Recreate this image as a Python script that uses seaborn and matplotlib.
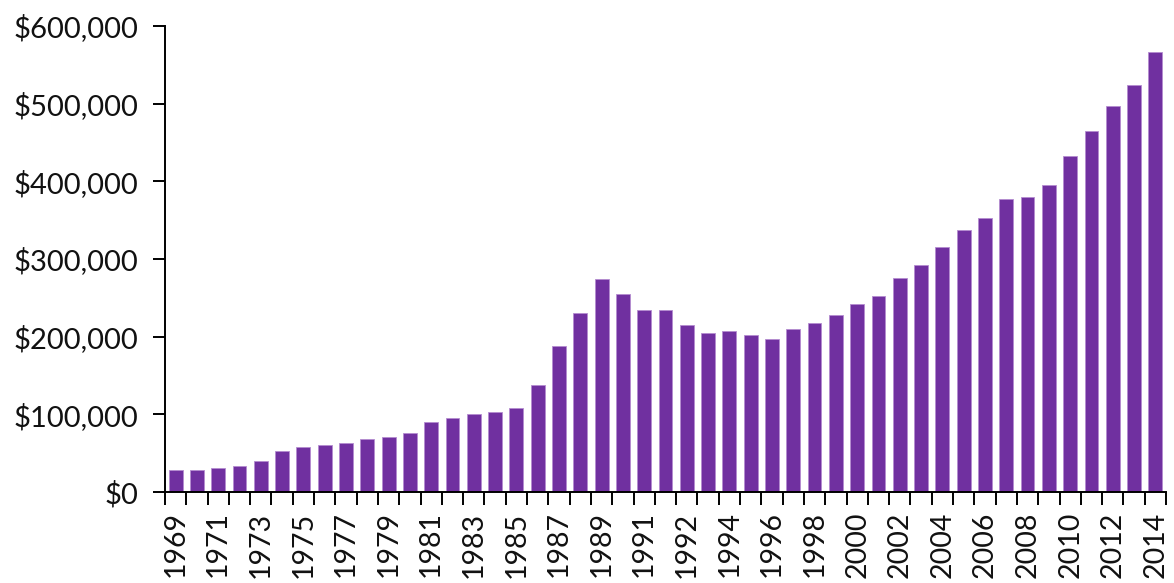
import matplotlib
matplotlib.use("Agg")
import matplotlib.pyplot as plt
import matplotlib.ticker as mticker
import numpy as np
import pandas as pd
import seaborn as sns

# categories: 1969-1991, an extra 1991/92 bar, then 1992-2014
years = [str(y) for y in range(1969, 1992)] + ["1991-92"] + [str(y) for y in range(1992, 2015)]
values = [28000, 28000, 30500, 33000, 40300, 52800, 57900, 60500, 63000, 67800,
          70400, 75500, 90100, 95200, 100000, 102600, 107700, 137800, 187500, 230500,
          274700, 254900, 234700, 234700, 215000, 204700, 207300, 202500, 197400, 209900,
          217200, 227500, 242500, 252400, 275100, 292300, 315000, 337300, 352300, 377200,
          379400, 394900, 432400, 464400, 497000, 524400, 566500]
# every other category carries a label
shown_labels = years[0::2]

df = pd.DataFrame({"year": years, "value": values})

sns.set_style("white")
plt.rcParams["font.family"] = ["Lato", "DejaVu Sans"]

fig = plt.figure(figsize=(11.74, 5.83), dpi=100)
ax = fig.add_axes([0.1405, 0.1561, 0.8527, 0.7993])

sns.barplot(data=df, x="year", y="value", order=years, color="#7030A0",
            saturation=1, width=0.65, edgecolor="#B48CD0", linewidth=0.6, ax=ax)

ax.set_xlim(-0.5, len(years) - 0.5)
ax.set_ylim(0, 600000)
ax.yaxis.set_major_locator(mticker.MultipleLocator(100000))
ax.yaxis.set_major_formatter(mticker.StrMethodFormatter("${x:,.0f}"))

# tick marks at category boundaries, labels on every second bar
ax.set_xticks(np.arange(0, len(years), 2))
ax.set_xticklabels(shown_labels, rotation=90, va="top", ha="center")
ax.set_xticks(np.arange(-0.5, len(years), 1), minor=True)
ax.tick_params(axis="x", which="major", bottom=True, length=0, pad=14, labelsize=20.5,
               labelcolor="#111111")
ax.tick_params(axis="x", which="minor", bottom=True, length=9, width=1.4,
               color="black", direction="out")
ax.tick_params(axis="y", left=True, length=9, width=1.4, color="black",
               direction="out", labelsize=21, pad=10, labelcolor="#111111")

ax.set_xlabel("")
ax.set_ylabel("")
sns.despine(ax=ax)
for s in ["left", "bottom"]:
    ax.spines[s].set_color("black")
    ax.spines[s].set_linewidth(1.4)

fig.savefig("out.png", dpi=100)
